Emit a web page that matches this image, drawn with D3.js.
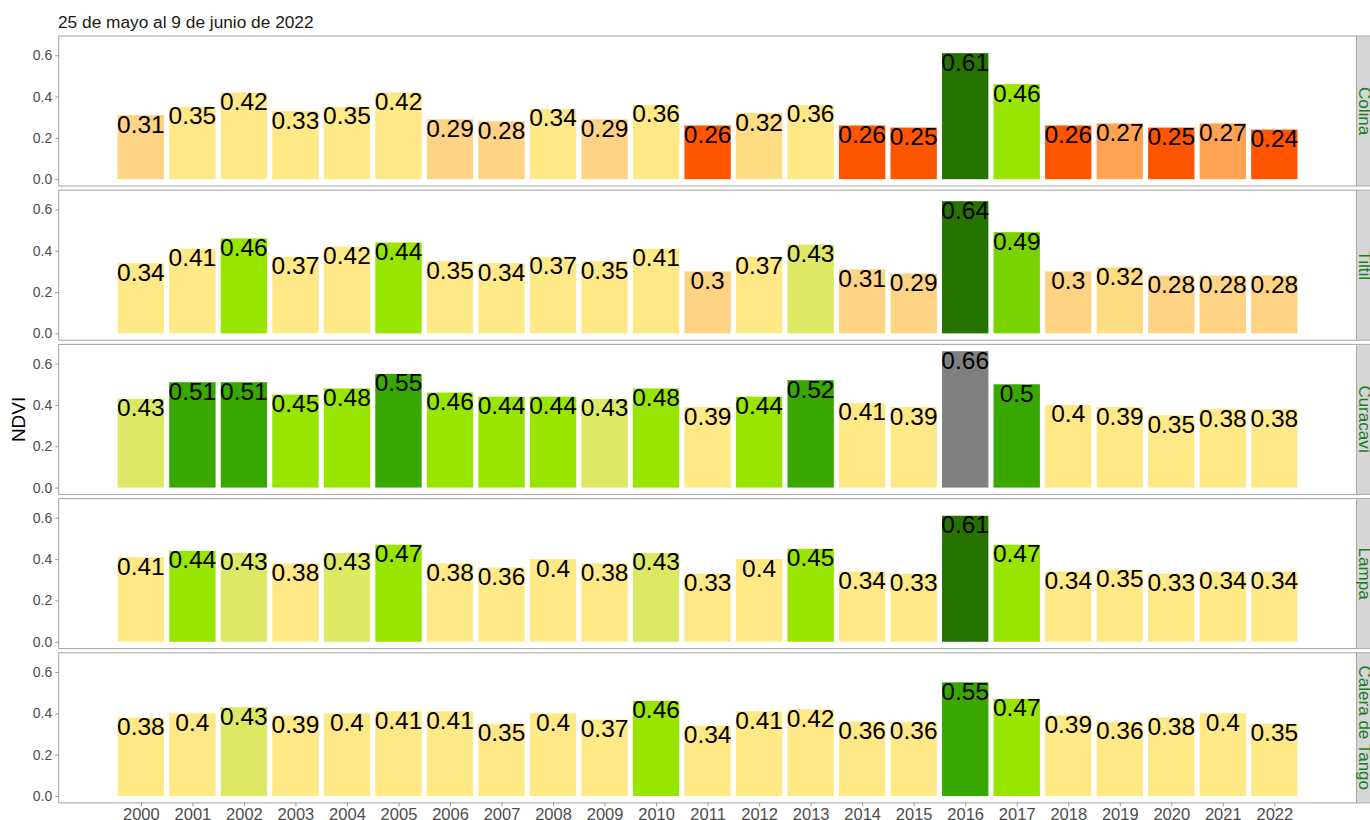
<!DOCTYPE html>
<html>
<head>
<meta charset="utf-8">
<script src="https://cdn.jsdelivr.net/npm/d3@7"></script>
<style>
html, body { margin: 0; padding: 0; background: #fff; overflow: hidden; }
svg { display: block; font-family: "Liberation Sans", Arial, sans-serif; }
</style>
</head>
<body>
<svg id="chart" width="1370" height="820"></svg>
<script>
const title = "25 de mayo al 9 de junio de 2022";
const yTitle = "NDVI";
const years = d3.range(2000, 2023);
const yTicks = [0.0, 0.2, 0.4, 0.6];
const communes = ["Colina", "Tiltil", "Curacaví", "Lampa", "Calera de Tango"];

const colina  = [0.31,0.35,0.42,0.33,0.35,0.42,0.29,0.28,0.34,0.29,0.36,0.26,0.32,0.36,0.26,0.25,0.61,0.46,0.26,0.27,0.25,0.27,0.24];
const tiltil  = [0.34,0.41,0.46,0.37,0.42,0.44,0.35,0.34,0.37,0.35,0.41,0.30,0.37,0.43,0.31,0.29,0.64,0.49,0.30,0.32,0.28,0.28,0.28];
const curacavi= [0.43,0.51,0.51,0.45,0.48,0.55,0.46,0.44,0.44,0.43,0.48,0.39,0.44,0.52,0.41,0.39,0.66,0.50,0.40,0.39,0.35,0.38,0.38];
const lampa   = [0.41,0.44,0.43,0.38,0.43,0.47,0.38,0.36,0.40,0.38,0.43,0.33,0.40,0.45,0.34,0.33,0.61,0.47,0.34,0.35,0.33,0.34,0.34];
const calera  = [0.38,0.40,0.43,0.39,0.40,0.41,0.41,0.35,0.40,0.37,0.46,0.34,0.41,0.42,0.36,0.36,0.55,0.47,0.39,0.36,0.38,0.40,0.35];

// colour class of each bar
const colinaCls  = ["p","y","y","y","y","y","p","p","y","p","y","r","py","y","r","r","g4","g1","r","o","r","o","r"];
const tiltilCls  = ["y","y","g1","y","y","g1","y","y","y","y","y","p","y","yg","p","p","g4","g2","p","py","p","p","p"];
const curacaviCls= ["yg","g3","g3","g1","g1","g3","g1","g1","g1","yg","g1","y","g1","g3","y","y","gray","g3","y","y","y","y","y"];
const lampaCls   = ["y","g1","yg","y","yg","g1","y","y","y","y","yg","y","y","g1","y","y","g4","g1","y","y","y","y","y"];
const caleraCls  = ["y","y","yg","y","y","y","y","y","y","y","g1","y","y","y","y","y","g3","g1","y","y","y","y","y"];

const palette = {
  r: "#FF5500", o: "#FFA352", p: "#FED384", py: "#FEDD82", y: "#FFE987",
  yg: "#DDE864", g1: "#98E600", g2: "#7AD300", g3: "#38A800", g4: "#267300", gray: "#808080"
};

const values = [colina, tiltil, curacavi, lampa, calera];
const classes = [colinaCls, tiltilCls, curacaviCls, lampaCls, caleraCls];

const svg = d3.select("#chart");
const left = 58.7, right = 1356.5;
const panelTop0 = 36, panelH = 150, panelStep = 154.2;

const x = d3.scaleLinear().domain([1998.405, 2023.595]).range([left, right]);
const barW = x(2000.9) - x(2000);
const yMaxData = 0.66;
const yDom = [-0.05 * yMaxData, yMaxData * 1.05];

svg.append("text").attr("x", 58).attr("y", 28)
  .attr("font-size", 17.3).attr("fill", "#1a1a1a").text(title);

svg.append("text")
  .attr("transform", `translate(25,${(panelTop0 + 4 * panelStep + panelH + panelTop0) / 2}) rotate(-90)`)
  .attr("text-anchor", "middle").attr("font-size", 19).attr("fill", "#000").text(yTitle);

communes.forEach((name, i) => {
  const top = panelTop0 + i * panelStep;
  const y = d3.scaleLinear().domain(yDom).range([top + panelH, top]);
  const g = svg.append("g");

  // bars
  g.selectAll("rect.bar").data(values[i]).join("rect")
    .attr("class", "bar")
    .attr("x", (d, j) => x(years[j]) - barW / 2)
    .attr("width", barW)
    .attr("y", d => y(d))
    .attr("height", d => y(0) - y(d))
    .attr("fill", (d, j) => palette[classes[i][j]]);

  // labels
  g.selectAll("text.lab").data(values[i]).join("text")
    .attr("class", "lab")
    .attr("x", (d, j) => x(years[j]))
    .attr("y", d => y(d) + 17.5)
    .attr("text-anchor", "middle")
    .attr("font-size", 24.5).attr("fill", "#000")
    .text(d => String(+d.toFixed(2)));

  // panel border
  g.append("rect").attr("x", left).attr("y", top)
    .attr("width", right - left).attr("height", panelH)
    .attr("fill", "none").attr("stroke", "#ABABAB").attr("stroke-width", 1.1);

  // y axis
  const ax = d3.axisLeft(y).tickValues(yTicks).tickFormat(d3.format(".1f")).tickSize(3.5).tickPadding(3);
  const ag = g.append("g").attr("transform", `translate(${left},0)`).call(ax);
  ag.select(".domain").remove();
  ag.selectAll(".tick line").attr("stroke", "#9a9a9a");
  ag.selectAll(".tick text").attr("font-size", 14).attr("fill", "#4d4d4d")
    .attr("font-family", "\"Liberation Sans\", Arial, sans-serif");

  // strip
  g.append("rect").attr("x", right).attr("y", top).attr("width", 30).attr("height", panelH)
    .attr("fill", "#D6D6D6").attr("stroke", "#ABABAB").attr("stroke-width", 1);
  g.append("text")
    .attr("transform", `translate(1359,${top + panelH / 2}) rotate(90)`)
    .attr("text-anchor", "middle").attr("font-size", 17).attr("fill", "#1E7B1E")
    .text(name);

  if (i === communes.length - 1) {
    const xa = d3.axisBottom(x).tickValues(years).tickFormat(d3.format("d")).tickSize(3.5).tickPadding(1.5);
    const xg = g.append("g").attr("transform", `translate(0,${top + panelH})`).call(xa);
    xg.select(".domain").remove();
    xg.selectAll(".tick line").attr("stroke", "#9a9a9a");
    xg.selectAll(".tick text").attr("font-size", 16.5).attr("fill", "#4d4d4d")
      .attr("font-family", "\"Liberation Sans\", Arial, sans-serif");
  }
});
</script>
</body>
</html>
